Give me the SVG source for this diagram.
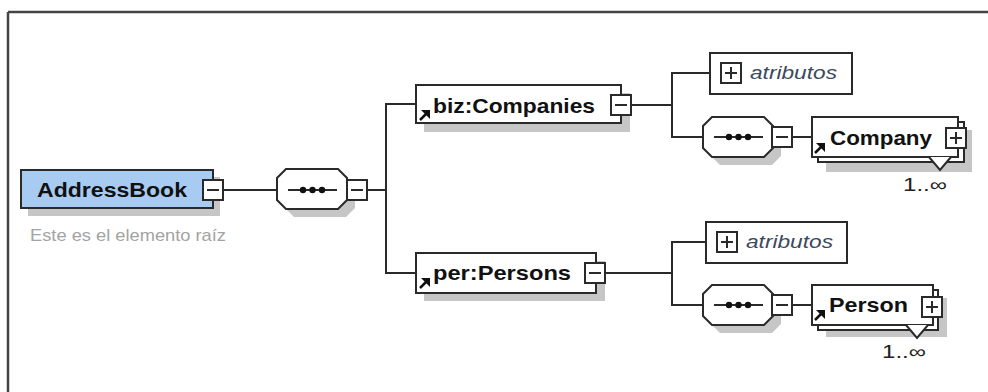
<svg xmlns="http://www.w3.org/2000/svg" width="988" height="392" viewBox="0 0 988 392">
<style>
.ln{fill:none;stroke:#2a2a2a;stroke-width:2}
.bx{fill:#ffffff;stroke:#2a2a2a;stroke-width:2}
.sh{fill:#c6c6c6;stroke:none}
.nm{font-family:"Liberation Sans",Arial,sans-serif;font-weight:bold;font-size:21px;fill:#111111}
.at{font-family:"Liberation Sans",Arial,sans-serif;font-style:italic;font-size:19px;fill:#3c4a5e}
.ds{font-family:"Liberation Sans",Arial,sans-serif;font-size:17px;fill:#a3a3a3}
.oc{font-family:"Liberation Sans",Arial,sans-serif;font-size:18px;fill:#222222}
.ar{fill:none;stroke:#111111;stroke-width:2.5}
.dot{fill:#111111}
</style>
<defs>
<path id="oct" d="M9,0 L61,0 L70,9 L70,31 L61,40 L9,40 L0,31 L0,9 Z"/>
<g id="minus"><rect x="0" y="0" width="20" height="20" class="bx"/><line x1="4" y1="10" x2="16" y2="10" class="ln"/></g>
<g id="plus"><rect x="0" y="0" width="20" height="20" class="bx"/><line x1="4" y1="10" x2="16" y2="10" class="ln"/><line x1="10" y1="4" x2="10" y2="16" class="ln"/></g>
<g id="arrow"><line x1="1" y1="10" x2="8" y2="3" class="ar"/><path d="M2,0 L11,0 L11,9 Z" class="dot"/></g>
<g id="seqdots"><line x1="11" y1="22" x2="60" y2="22" class="ln"/><circle cx="26" cy="22" r="3.2" class="dot"/><circle cx="35.5" cy="22" r="3.2" class="dot"/><circle cx="45" cy="22" r="3.2" class="dot"/></g>
</defs>

<!-- frame -->
<g id="frame">
<line x1="8" y1="12" x2="988" y2="12" stroke="#444444" stroke-width="2.5"/>
<line x1="8" y1="12" x2="8" y2="392" stroke="#444444" stroke-width="2.5"/>
</g>

<!-- connectors -->
<g id="connectors">
<line x1="222" y1="190" x2="277" y2="190" class="ln"/>
<line x1="367" y1="190" x2="386" y2="190" class="ln"/>
<polyline points="416,104 386,104 386,273 416,273" class="ln"/>
<line x1="631" y1="105" x2="672" y2="105" class="ln"/>
<polyline points="710,73 672,73 672,137 703,137" class="ln"/>
<line x1="792" y1="137" x2="812" y2="137" class="ln"/>
<line x1="605" y1="273" x2="672" y2="273" class="ln"/>
<polyline points="706,242 672,242 672,305 703,305" class="ln"/>
<line x1="792" y1="305" x2="812" y2="305" class="ln"/>
</g>

<!-- AddressBook -->
<g id="node-addressbook">
<rect x="28" y="177" width="192" height="39" class="sh"/>
<rect x="21" y="170" width="192" height="38" fill="#a8cbf2" stroke="#2a2a2a" stroke-width="2"/>
<text x="37" y="197" class="nm" textLength="150" lengthAdjust="spacingAndGlyphs">AddressBook</text>
<use href="#minus" x="203" y="180"/>
<text x="30" y="241" class="ds" textLength="196" lengthAdjust="spacingAndGlyphs">Este es el elemento raíz</text>
</g>

<!-- sequence 1 -->
<g id="node-seq1">
<use href="#oct" x="285" y="177" class="sh"/>
<use href="#oct" x="277" y="169" class="bx"/>
<use href="#seqdots" x="277" y="168"/>
<use href="#minus" x="347" y="180"/>
</g>

<!-- biz:Companies -->
<g id="node-companies">
<rect x="424" y="93" width="206" height="39" class="sh"/>
<rect x="416" y="85" width="205" height="38" class="bx"/>
<text x="433" y="113" class="nm" textLength="162" lengthAdjust="spacingAndGlyphs">biz:Companies</text>
<use href="#arrow" x="419" y="110"/>
<use href="#minus" x="611" y="95"/>
</g>

<!-- atributos 1 -->
<g id="node-attr1">
<rect x="710" y="53" width="142" height="41" class="bx"/>
<use href="#plus" x="721" y="63"/>
<text x="750" y="79" class="at" textLength="87" lengthAdjust="spacingAndGlyphs">atributos</text>
</g>

<!-- sequence 2 -->
<g id="node-seq2">
<use href="#oct" x="711" y="125" class="sh"/>
<use href="#oct" x="703" y="117" class="bx"/>
<use href="#seqdots" x="703" y="115"/>
<use href="#minus" x="772" y="127"/>
</g>

<!-- Company -->
<g id="node-company">
<rect x="826" y="130" width="146" height="42" class="sh"/>
<rect x="818" y="122" width="146" height="40" class="bx"/>
<rect x="812" y="117" width="146" height="40" class="bx"/>
<polygon points="929,157 940,170 951,157" fill="#ffffff"/>
<polyline points="929,157 940,170 951,157" class="ln" stroke-width="1.5"/>
<text x="830" y="145" class="nm" textLength="102" lengthAdjust="spacingAndGlyphs">Company</text>
<use href="#arrow" x="814" y="143"/>
<use href="#plus" x="946" y="128"/>
<text x="903" y="191" class="oc" textLength="44" lengthAdjust="spacingAndGlyphs">1..∞</text>
</g>

<!-- per:Persons -->
<g id="node-persons">
<rect x="424" y="261" width="181" height="40" class="sh"/>
<rect x="416" y="253" width="180" height="40" class="bx"/>
<text x="433" y="280" class="nm" textLength="138" lengthAdjust="spacingAndGlyphs">per:Persons</text>
<use href="#arrow" x="419" y="278"/>
<use href="#minus" x="585" y="263"/>
</g>

<!-- atributos 2 -->
<g id="node-attr2">
<rect x="706" y="222" width="141" height="41" class="bx"/>
<use href="#plus" x="717" y="232"/>
<text x="746" y="248" class="at" textLength="87" lengthAdjust="spacingAndGlyphs">atributos</text>
</g>

<!-- sequence 3 -->
<g id="node-seq3">
<use href="#oct" x="711" y="293" class="sh"/>
<use href="#oct" x="703" y="285" class="bx"/>
<use href="#seqdots" x="703" y="283"/>
<use href="#minus" x="772" y="295"/>
</g>

<!-- Person -->
<g id="node-person">
<rect x="826" y="298" width="121" height="39" class="sh"/>
<rect x="818" y="290" width="120" height="40" class="bx"/>
<rect x="812" y="285" width="121" height="40" class="bx"/>
<polygon points="906,325 917,338 928,325" fill="#ffffff"/>
<polyline points="906,325 917,338 928,325" class="ln" stroke-width="1.5"/>
<text x="829" y="312" class="nm" textLength="79" lengthAdjust="spacingAndGlyphs">Person</text>
<use href="#arrow" x="814" y="310"/>
<use href="#plus" x="922" y="297"/>
<text x="882" y="358" class="oc" textLength="44" lengthAdjust="spacingAndGlyphs">1..∞</text>
</g>
</svg>
